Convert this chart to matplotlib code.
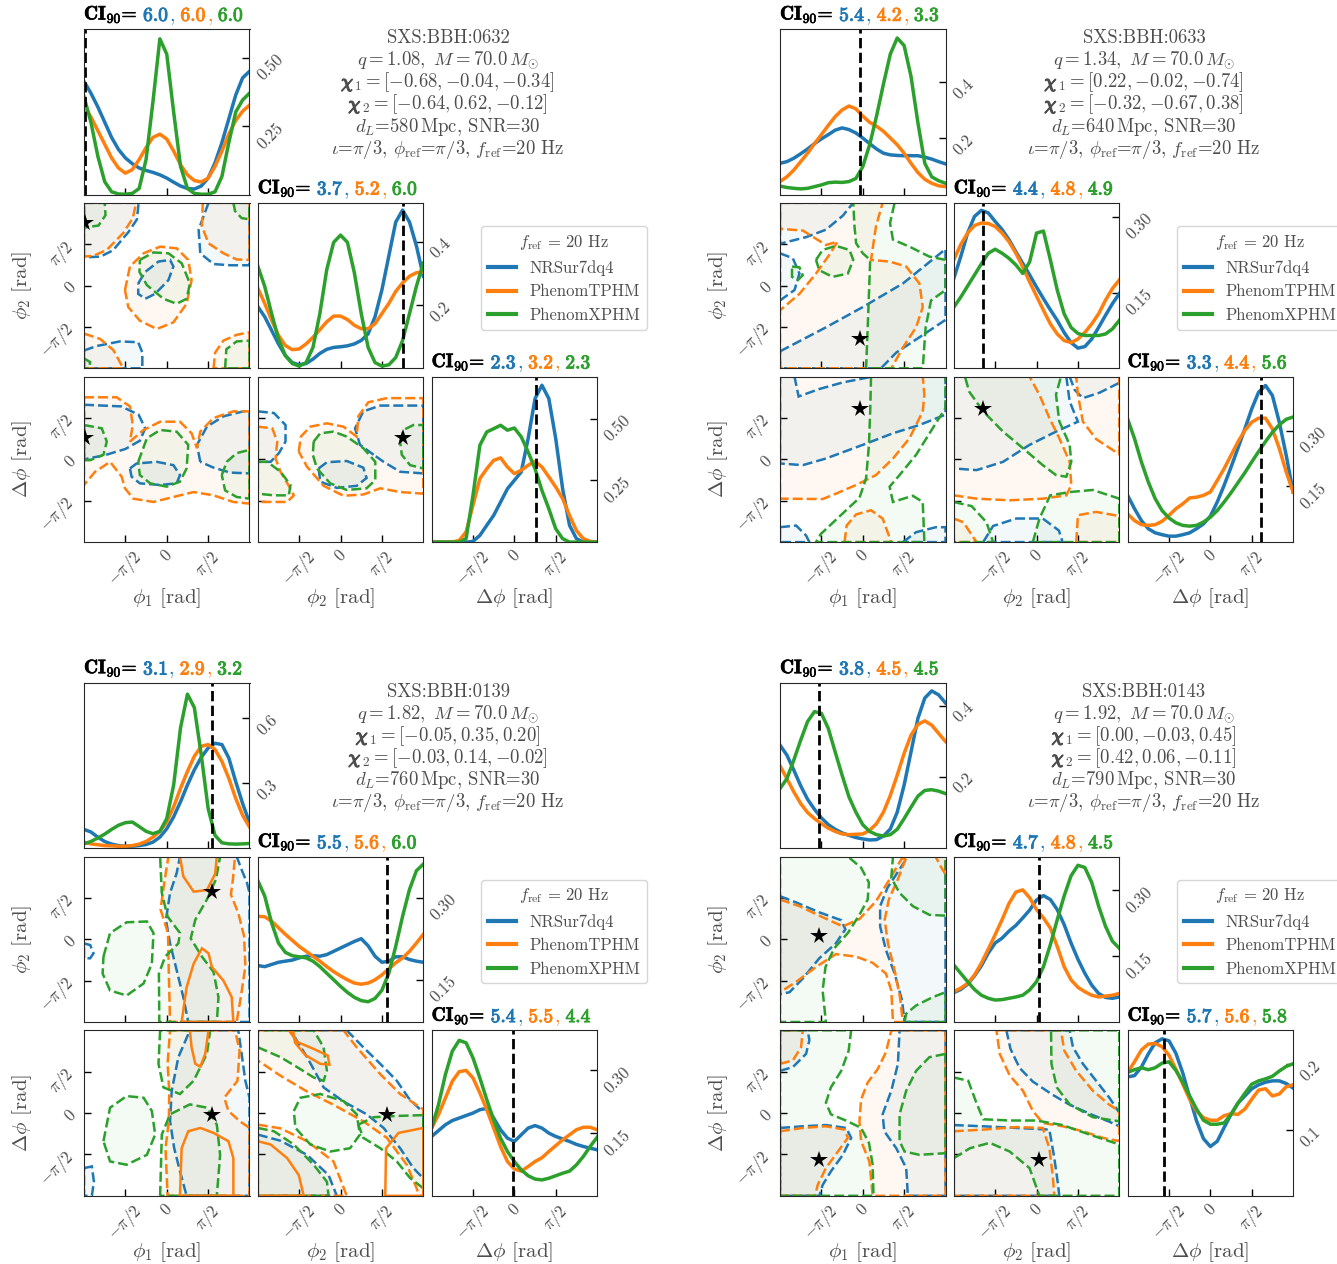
import numpy as np
import matplotlib
matplotlib.use("Agg")
import matplotlib.pyplot as plt
import matplotlib.patheffects as pe
from matplotlib.patches import Polygon
from matplotlib.lines import Line2D

plt.rcParams["font.family"] = "cmr10"
plt.rcParams["mathtext.fontset"] = "cm"
plt.rcParams["axes.formatter.use_mathtext"] = True
plt.rcParams["axes.unicode_minus"] = False

models = ["NRSur7dq4", "PhenomTPHM", "PhenomXPHM"]
colors = ["#1f77b4", "#ff7f0e", "#2ca02c"]
grey = "0.3"

phase_grid = np.linspace(-np.pi, np.pi, 25)
HALF_PI = np.pi / 2   # contour vertices below are in units of pi/2
tick_pos = [-np.pi / 2, 0, np.pi / 2]
tick_txt = [r"$-\pi/2$", r"$0$", r"$\pi/2$"]

# ---------------- SXS:BBH:0632 ----------------
kde_0632_phi1_nrsur = [0.414, 0.371, 0.321, 0.265, 0.209, 0.165, 0.134, 0.113, 0.097, 0.088, 0.081, 0.072, 0.060, 0.045, 0.031, 0.022, 0.020, 0.031, 0.060, 0.116, 0.190, 0.277, 0.364, 0.427, 0.451]
kde_0632_phi1_tphm = [0.327, 0.284, 0.234, 0.184, 0.134, 0.097, 0.078, 0.091, 0.128, 0.172, 0.209, 0.221, 0.203, 0.159, 0.109, 0.072, 0.051, 0.046, 0.060, 0.103, 0.159, 0.221, 0.271, 0.305, 0.327]
kde_0632_phi1_xphm = [0.358, 0.265, 0.141, 0.047, 0.010, 0.002, 0.001, 0.004, 0.022, 0.128, 0.340, 0.570, 0.514, 0.302, 0.103, 0.022, 0.004, 0.001, 0.001, 0.010, 0.066, 0.190, 0.302, 0.346, 0.371]
kde_0632_phi2_nrsur = [0.195, 0.163, 0.120, 0.077, 0.040, 0.018, 0.011, 0.015, 0.029, 0.047, 0.060, 0.066, 0.068, 0.071, 0.077, 0.088, 0.109, 0.163, 0.248, 0.355, 0.462, 0.500, 0.462, 0.387, 0.291]
kde_0632_phi2_tphm = [0.253, 0.205, 0.152, 0.104, 0.072, 0.059, 0.061, 0.077, 0.098, 0.122, 0.147, 0.165, 0.165, 0.154, 0.136, 0.125, 0.125, 0.141, 0.173, 0.205, 0.243, 0.270, 0.291, 0.302, 0.304]
kde_0632_phi2_xphm = [0.323, 0.259, 0.173, 0.093, 0.040, 0.015, 0.007, 0.018, 0.066, 0.173, 0.312, 0.398, 0.421, 0.398, 0.302, 0.173, 0.066, 0.018, 0.007, 0.011, 0.034, 0.088, 0.173, 0.259, 0.332]
kde_0632_dphi_nrsur = [0, 0, 0, 0, 0, 0, 0.003, 0.027, 0.068, 0.108, 0.162, 0.216, 0.250, 0.284, 0.419, 0.581, 0.635, 0.581, 0.419, 0.216, 0.068, 0.014, 0, 0, 0]
kde_0632_dphi_tphm = [0, 0, 0, 0, 0.007, 0.041, 0.149, 0.257, 0.297, 0.331, 0.341, 0.304, 0.277, 0.291, 0.311, 0.327, 0.304, 0.264, 0.223, 0.176, 0.108, 0.047, 0.014, 0.003, 0]
kde_0632_dphi_xphm = [0, 0, 0, 0, 0, 0.014, 0.189, 0.392, 0.446, 0.459, 0.473, 0.453, 0.462, 0.426, 0.365, 0.297, 0.209, 0.135, 0.054, 0.014, 0, 0, 0, 0, 0]

cl_0632_p1p2_nrsur = [
    [(-0.69, 0.05), (-0.52, 0.33), (-0.20, 0.58), (0.08, 0.62), (0.16, 0.46), (0.04, 0.13), (-0.28, -0.20), (-0.52, -0.32), (-0.69, -0.20)],
    [(-2, 2), (-0.68, 2), (-0.72, 1.6), (-0.92, 1.3), (-1.3, 0.85), (-1.6, 0.7), (-2, 0.68)],
    [(1.01, 2), (0.77, 1.35), (0.81, 0.78), (1.13, 0.52), (1.53, 0.49), (2, 0.49), (2, 2)],
    [(-2, -1.57), (-1.69, -1.46), (-1.13, -1.35), (-0.69, -1.37), (-0.59, -1.62), (-0.59, -2), (-2, -2)]]
cl_0632_p1p2_tphm = [
    [(-1.01, -0.11), (-0.89, 0.46), (-0.56, 0.78), (-0.16, 0.94), (0.24, 0.90), (0.52, 0.62), (0.60, 0.13), (0.48, -0.44), (0.16, -0.89), (-0.24, -1.05), (-0.65, -0.85), (-0.93, -0.52)],
    [(-2, 2), (-0.74, 2), (-0.82, 1.63), (-1.05, 1.27), (-1.45, 0.86), (-1.77, 0.72), (-2, 0.70)],
    [(0.87, 2), (0.85, 1.43), (1.01, 1.02), (1.37, 0.78), (1.69, 0.63), (2, 0.62), (2, 2)],
    [(-2, -1.16), (-1.61, -1.29), (-1.29, -1.56), (-1.05, -2), (-2, -2)],
    [(1.13, -2), (1.17, -1.62), (1.37, -1.33), (1.69, -1.19), (2, -1.13), (2, -2)]]
cl_0632_p1p2_xphm = [
    [(-0.65, 0.62), (-0.32, 0.80), (0.04, 0.78), (0.36, 0.54), (0.56, 0.05), (0.48, -0.32), (0.24, -0.44), (-0.08, -0.32), (-0.48, 0.01), (-0.66, 0.33)],
    [(-2, 2), (-1.5, 2), (-1.48, 1.7), (-1.65, 1.45), (-2, 1.4)],
    [(1.61, 2), (1.65, 1.80), (1.81, 1.63), (2, 1.6), (2, 2)],
    [(-2, -1.76), (-1.85, -1.85), (-1.88, -2), (-2, -2)],
    [(1.41, -2), (1.44, -1.54), (1.69, -1.35), (2, -1.33), (2, -2)]]
cl_0632_p1dp_nrsur = [
    [(-2, 1.32), (-1.1, 1.28), (-0.68, 1.08), (-0.52, 0.75), (-0.65, 0.45), (-1.0, 0.25), (-1.5, 0.1), (-2, 0.0)],
    [(-0.89, -0.22), (-0.73, -0.10), (-0.24, -0.06), (0.16, -0.14), (0.32, -0.38), (0.24, -0.58), (-0.16, -0.62), (-0.65, -0.58), (-0.85, -0.42)],
    [(0.81, -0.06), (0.73, 0.35), (0.97, 0.79), (1.37, 1.04), (1.85, 1.16), (2, 1.16), (2, -0.34), (1.53, -0.32), (1.13, -0.20)]]
cl_0632_p1dp_tphm = [
    [(-2, 1.50), (-1.21, 1.50), (-0.89, 1.28), (-0.82, 0.83), (-0.89, 0.43), (-0.56, 0.71), (-0.16, 0.91), (0.32, 0.91), (0.60, 0.63), (0.73, 0.27), (0.81, 0.67), (1.13, 1.00), (1.61, 1.16), (2, 1.16), (2, -1.07), (1.61, -1.03), (1.13, -0.87), (0.65, -0.79), (0.16, -0.91), (-0.32, -1.03), (-0.81, -0.95), (-1.01, -0.70), (-1.09, -0.42), (-1.37, -0.06), (-1.73, -0.30), (-2, -0.62)]]
cl_0632_p1dp_xphm = [
    [(-2, 0.83), (-1.57, 0.75), (-1.45, 0.43), (-1.53, 0.11), (-1.85, -0.02), (-2, -0.02)],
    [(-0.69, -0.06), (-0.48, 0.51), (-0.16, 0.71), (0.24, 0.67), (0.52, 0.35), (0.48, -0.22), (0.32, -0.54), (0, -0.66), (-0.40, -0.58), (-0.65, -0.38)],
    [(1.33, -0.38), (1.45, -0.06), (1.69, 0.15), (2, 0.23), (2, -0.95), (1.69, -0.91), (1.41, -0.75)]]
cl_0632_p2dp_nrsur = [
    [(-2, 1.16), (-1.61, 1.12), (-1.33, 0.83), (-1.33, 0.43), (-1.49, 0.15), (-1.69, -0.06), (-2, -0.06)],
    [(0.80, 0.11), (0.47, 0.35), (0.35, 0.75), (0.55, 1.16), (0.96, 1.30), (2, 1.30), (2, -0.34), (1.44, -0.30), (1.04, -0.06)],
    [(-0.53, -0.22), (-0.33, -0.07), (0.15, -0.04), (0.55, -0.20), (0.63, -0.45), (0.39, -0.64), (-0.09, -0.69), (-0.49, -0.54)]]
cl_0632_p2dp_tphm = [
    [(-2, 0.79), (-1.65, 0.75), (-1.53, 0.43), (-1.57, 0.02), (-1.45, -0.30), (-1.21, -0.71), (-1.13, -0.87), (-1.29, -1.03), (-1.77, -1.03), (-2, -1.03)],
    [(-1.01, 0.19), (-0.96, 0.55), (-0.73, 0.79), (-0.33, 0.87), (0.07, 0.79), (0.39, 0.55), (0.43, 1.04), (0.67, 1.38), (1.12, 1.48), (2, 1.48), (2, -0.83), (1.44, -0.79), (0.96, -0.70), (0.55, -0.85), (0.07, -0.88), (-0.41, -0.64), (-0.81, -0.18)]]
cl_0632_p2dp_xphm = [
    [(-2, -0.06), (-1.77, -0.06), (-1.45, -0.30), (-1.21, -0.62), (-1.25, -0.87), (-1.61, -0.87), (-2, -0.83)],
    [(-0.65, 0.43), (-0.49, 0.63), (-0.17, 0.67), (0.15, 0.55), (0.55, 0.27), (0.84, -0.06), (0.84, -0.50), (0.63, -0.70), (0.15, -0.74), (-0.25, -0.58), (-0.57, -0.22), (-0.67, 0.11)],
    [(1.44, 0.43), (1.52, 0.71), (1.76, 0.83), (2, 0.83), (2, -0.22), (1.68, -0.14), (1.48, 0.11)]]

truth_0632 = [-3.11, 2.36, 0.82]
ci_0632 = [[6.0, 6.0, 6.0], [3.7, 5.2, 6.0], [2.3, 3.2, 2.3]]
ylim_0632 = [(0, 0.606), (0, 0.523), (0, 0.67)]
ytick_0632 = [[0.25, 0.50], [0.2, 0.4], [0.25, 0.50]]
ytxt_0632 = [["0.25", "0.50"], ["0.2", "0.4"], ["0.25", "0.50"]]
info_0632 = ["0632", "1.08", "[-0.68, -0.04, -0.34]", "[-0.64, 0.62, -0.12]", "580"]

# ---------------- SXS:BBH:0633 ----------------
kde_0633_phi1_nrsur = [0.111, 0.117, 0.129, 0.145, 0.162, 0.181, 0.198, 0.213, 0.229, 0.237, 0.231, 0.219, 0.201, 0.181, 0.162, 0.147, 0.141, 0.139, 0.138, 0.138, 0.138, 0.133, 0.126, 0.117, 0.109]
kde_0633_phi1_tphm = [0.046, 0.063, 0.087, 0.117, 0.147, 0.181, 0.213, 0.246, 0.277, 0.301, 0.315, 0.305, 0.279, 0.257, 0.243, 0.225, 0.201, 0.177, 0.147, 0.111, 0.078, 0.054, 0.040, 0.031, 0.028]
kde_0633_phi1_xphm = [0.030, 0.025, 0.022, 0.020, 0.022, 0.028, 0.034, 0.042, 0.044, 0.043, 0.046, 0.057, 0.099, 0.177, 0.279, 0.393, 0.500, 0.557, 0.530, 0.420, 0.255, 0.111, 0.063, 0.049, 0.040]
kde_0633_phi2_nrsur = [0.178, 0.221, 0.268, 0.301, 0.313, 0.308, 0.291, 0.275, 0.255, 0.231, 0.208, 0.185, 0.161, 0.138, 0.116, 0.095, 0.071, 0.051, 0.040, 0.043, 0.058, 0.081, 0.105, 0.128, 0.148]
kde_0633_phi2_tphm = [0.215, 0.245, 0.268, 0.283, 0.288, 0.287, 0.281, 0.268, 0.251, 0.228, 0.201, 0.171, 0.143, 0.115, 0.088, 0.068, 0.055, 0.051, 0.058, 0.071, 0.088, 0.108, 0.135, 0.158, 0.175]
kde_0633_phi2_xphm = [0.121, 0.141, 0.163, 0.185, 0.207, 0.228, 0.236, 0.228, 0.218, 0.205, 0.188, 0.211, 0.268, 0.272, 0.215, 0.155, 0.108, 0.081, 0.069, 0.065, 0.065, 0.065, 0.068, 0.078, 0.095]
kde_0633_dphi_nrsur = [0.126, 0.090, 0.058, 0.036, 0.025, 0.020, 0.016, 0.016, 0.020, 0.025, 0.036, 0.049, 0.070, 0.108, 0.153, 0.202, 0.253, 0.305, 0.359, 0.404, 0.422, 0.395, 0.323, 0.234, 0.135]
kde_0633_dphi_tphm = [0.076, 0.058, 0.047, 0.045, 0.047, 0.056, 0.072, 0.090, 0.103, 0.119, 0.121, 0.126, 0.135, 0.166, 0.198, 0.234, 0.270, 0.301, 0.323, 0.334, 0.334, 0.305, 0.252, 0.189, 0.135]
kde_0633_dphi_xphm = [0.332, 0.279, 0.216, 0.162, 0.117, 0.085, 0.065, 0.052, 0.045, 0.043, 0.045, 0.054, 0.067, 0.085, 0.108, 0.133, 0.160, 0.187, 0.216, 0.244, 0.271, 0.296, 0.316, 0.331, 0.337]

cl_0633_p1p2_nrsur = [
    [(-2, -1.59), (-0.89, -1.01), (0, -0.52), (0.97, 0.05), (2, 0.88), (2, -0.83), (1.37, -1.25), (0.81, -1.62), (0.44, -2), (-2, -2)],
    [(-2, 2), (-0.23, 2), (-0.48, 1.69), (-0.89, 1.35), (-1.37, 1.17), (-2, 1.01)],
    [(-2, 0.78), (-1.69, 0.66), (-1.53, 0.29), (-1.65, -0.11), (-2, -0.36)]]
cl_0633_p1p2_tphm = [
    [(-2, 2), (0.48, 2), (0.32, 1.43), (0.20, 0.62), (0.65, 0.58), (1.05, 0.46), (1.37, 0.05), (1.45, -0.52), (1.29, -1.01), (0.97, -1.50), (0.69, -2), (-2, -2), (-2, -0.60), (-1.53, -0.20), (-1.13, 0.29), (-0.81, 0.74), (-0.61, 1.06), (-0.89, 0.98), (-1.45, 1.33), (-2, 1.37)]]
cl_0633_p1p2_xphm = [
    [(-0.23, 2), (0.77, 2), (0.66, 1.51), (0.73, 1.11), (1.13, 0.94), (1.61, 0.70), (2, 0.62), (2, -0.11), (1.65, -0.36), (1.52, -1.01), (1.45, -2), (0.08, -2), (0.12, -1.01), (0.18, 0.62), (0, 0.78), (-0.16, 1.02), (-0.20, 1.43)],
    [(-1.13, 0.62), (-0.97, 0.86), (-0.65, 0.96), (-0.32, 0.86), (-0.23, 0.62), (-0.36, 0.29), (-0.73, 0.21), (-1.05, 0.37)],
    [(-1.71, 0.46), (-1.53, 0.44), (-1.45, 0.25), (-1.57, 0.13), (-1.71, 0.21)]]
cl_0633_p1dp_nrsur = [
    [(-2, 2), (-1.65, 2), (-1.55, 1.52), (-1.05, 1.70), (-0.48, 1.86), (0.24, 2), (2, 2), (2, 1.08), (1.37, 0.83), (0.73, 0.63), (0, 0.35), (-0.89, 0.02), (-1.45, -0.14), (-2, -0.10)],
    [(-2, -1.64), (-1.61, -1.60), (-1.37, -1.84), (-1.29, -2), (-2, -2)],
    [(0.97, -2), (1.29, -1.76), (1.77, -1.64), (2, -1.64), (2, -2)]]
cl_0633_p1dp_tphm = [
    [(-2, 2), (1.45, 2), (1.49, 1.56), (1.45, 1.16), (1.13, 0.51), (0.73, 0.02), (0.32, -0.38), (-0.16, -0.62), (-0.65, -0.83), (-0.97, -0.96), (-2, -0.95)],
    [(-0.44, -2), (-0.39, -1.60), (-0.16, -1.33), (0.20, -1.23), (0.48, -1.43), (0.69, -2)]]
cl_0633_p1dp_xphm = [
    [(0.20, 2), (2, 2), (2, 1.24), (1.69, 0.75), (1.29, 0.11), (0.89, -0.38), (0.65, -0.66), (0.73, -1.03), (1.21, -0.88), (1.45, -1.03), (1.49, -2), (-1.13, -2), (-1.01, -1.80), (-0.69, -1.50), (-0.36, -1.19), (-0.08, -0.93), (0.08, -0.46), (0.15, 0.35), (0.18, 1.16)]]
cl_0633_p2dp_nrsur = [
    [(-2, 2), (0.72, 2), (0.80, 1.40), (1.00, 0.91), (0.47, 0.67), (-0.17, 0.35), (-0.81, -0.06), (-1.45, -0.26), (-2, -0.22)],
    [(0.80, 2), (2, 2), (2, 1.85), (1.52, 1.61), (1.12, 1.48), (0.92, 1.68)],
    [(-1.29, -2), (-1.05, -1.61), (-0.49, -1.43), (0.15, -1.43), (0.54, -1.72), (0.63, -2)]]
cl_0633_p2dp_tphm = [
    [(-2, 2), (-0.17, 2), (0.07, 1.56), (0.31, 1.00), (0.55, 0.51), (0.80, -0.06), (0.84, -0.62), (0.72, -0.87), (0.15, -0.95), (-0.65, -0.99), (-1.45, -0.95), (-2, -0.87)],
    [(0.96, 2), (2, 2), (2, 0.12), (1.44, 0.49), (1.12, 0.91), (1.00, 1.56)],
    [(0.96, -2), (1.00, -1.35), (1.44, -1.27), (2, -1.37), (2, -2)],
    [(-2, -1.43), (-1.77, -1.52), (-1.45, -2), (-2, -2)]]
cl_0633_p2dp_xphm = [
    [(-1.73, 2), (0.59, 2), (0.47, 1.56), (0.55, 0.92), (0.80, 0.35), (0.84, -0.06), (0.72, -0.42), (0.47, -0.38), (0.15, -0.14), (-0.33, 0.27), (-0.81, 0.67), (-1.29, 1.16), (-1.63, 1.64)],
    [(-2, -1.03), (-1.57, -1.13), (-1.21, -1.52), (-1.05, -2), (-2, -2)],
    [(-0.09, -2), (0.07, -1.43), (0.33, -0.87), (0.80, -0.79), (1.36, -0.74), (2, -0.95), (2, -2)]]

truth_0633 = [-0.09, -2.03, 1.92]
ci_0633 = [[5.4, 4.2, 3.3], [4.4, 4.8, 4.9], [3.3, 4.4, 5.6]]
ylim_0633 = [(0, 0.589), (0, 0.328), (0, 0.446)]
ytick_0633 = [[0.2, 0.4], [0.15, 0.30], [0.15, 0.30]]
ytxt_0633 = [["0.2", "0.4"], ["0.15", "0.30"], ["0.15", "0.30"]]
info_0633 = ["0633", "1.34", "[0.22, -0.02, -0.74]", "[-0.32, -0.67, 0.38]", "640"]

# ---------------- SXS:BBH:0139 ----------------
kde_0139_phi1_nrsur = [0.087, 0.075, 0.051, 0.031, 0.019, 0.012, 0.009, 0.009, 0.012, 0.017, 0.028, 0.051, 0.090, 0.145, 0.215, 0.292, 0.362, 0.420, 0.463, 0.485, 0.479, 0.417, 0.308, 0.207, 0.118]
kde_0139_phi1_tphm = [0.028, 0.020, 0.016, 0.012, 0.011, 0.009, 0.009, 0.012, 0.019, 0.031, 0.051, 0.078, 0.121, 0.191, 0.277, 0.355, 0.425, 0.471, 0.479, 0.456, 0.401, 0.323, 0.230, 0.152, 0.098]
kde_0139_phi1_xphm = [0.020, 0.031, 0.047, 0.065, 0.087, 0.106, 0.118, 0.121, 0.100, 0.078, 0.067, 0.078, 0.137, 0.292, 0.557, 0.712, 0.650, 0.432, 0.184, 0.059, 0.025, 0.020, 0.019, 0.020, 0.022]
kde_0139_phi2_nrsur = [0.176, 0.174, 0.178, 0.182, 0.184, 0.186, 0.190, 0.193, 0.194, 0.193, 0.196, 0.202, 0.208, 0.214, 0.220, 0.225, 0.212, 0.193, 0.182, 0.184, 0.192, 0.192, 0.187, 0.184, 0.182]
kde_0139_phi2_tphm = [0.266, 0.265, 0.257, 0.245, 0.233, 0.222, 0.211, 0.202, 0.193, 0.184, 0.174, 0.165, 0.157, 0.150, 0.144, 0.142, 0.144, 0.150, 0.159, 0.170, 0.181, 0.190, 0.202, 0.217, 0.233]
kde_0139_phi2_xphm = [0.331, 0.303, 0.254, 0.217, 0.200, 0.194, 0.192, 0.190, 0.184, 0.174, 0.162, 0.150, 0.138, 0.127, 0.118, 0.112, 0.110, 0.116, 0.131, 0.162, 0.211, 0.266, 0.315, 0.349, 0.361]
kde_0139_dphi_nrsur = [0.142, 0.156, 0.170, 0.180, 0.186, 0.192, 0.198, 0.206, 0.209, 0.186, 0.158, 0.138, 0.130, 0.146, 0.162, 0.168, 0.162, 0.150, 0.142, 0.136, 0.130, 0.123, 0.118, 0.114, 0.110]
kde_0139_dphi_tphm = [0.162, 0.194, 0.234, 0.274, 0.297, 0.300, 0.282, 0.246, 0.206, 0.162, 0.118, 0.082, 0.064, 0.059, 0.070, 0.082, 0.091, 0.106, 0.120, 0.134, 0.146, 0.158, 0.164, 0.164, 0.158]
kde_0139_dphi_xphm = [0.162, 0.218, 0.290, 0.346, 0.372, 0.366, 0.330, 0.282, 0.230, 0.182, 0.138, 0.106, 0.082, 0.062, 0.048, 0.040, 0.038, 0.042, 0.048, 0.054, 0.059, 0.074, 0.094, 0.118, 0.140]

cl_0139_p1p2_nrsur = [
    [(0.32, 2), (1.69, 2), (1.81, 1.68), (1.94, 1.36), (2, 1.12), (2, -2), (0.52, -2), (0.40, -1.40), (0.24, -0.75), (0.08, -0.10), (-0.02, 0.47), (0.08, 1.12), (0.24, 1.60)],
    [(-2, -0.10), (-1.85, -0.14), (-1.77, -0.34), (-1.85, -0.46), (-2, -0.46)]]
cl_0139_p1p2_tphm = [
    [(0.04, 2), (1.65, 2), (1.60, 1.45), (1.55, 1.08), (1.73, 0.63), (1.87, 0.07), (1.90, -0.66), (1.79, -1.40), (1.69, -2), (0.08, -2), (0.05, -0.83), (0.03, 0.15), (-0.15, 0.72), (-0.06, 1.37)]]
cl_0139_p1p2_xphm = [
    [(-1.53, -0.42), (-1.37, 0.15), (-0.97, 0.41), (-0.48, 0.43), (-0.32, 0.15), (-0.36, -0.59), (-0.56, -1.07), (-0.97, -1.36), (-1.37, -1.24), (-1.55, -0.83)],
    [(-0.16, 2), (1.29, 2), (1.19, 1.45), (0.97, 0.96), (0.69, 0.47), (0.58, 0.02), (0.85, -0.42), (1.13, -0.79), (1.25, -1.40), (1.21, -2), (-0.18, -2), (-0.19, -0.83), (-0.04, -0.42), (0.28, -0.10), (0.32, 0.15), (0.02, 0.55), (-0.12, 1.12)]]
cl_0139_p1p2_tphm_core = [
    [(0.32, 2), (0.40, 1.52), (0.65, 1.15), (0.97, 1.19), (1.17, 1.58), (1.21, 2)],
    [(0.36, -2), (0.48, -1.16), (0.65, -0.59), (0.85, -0.22), (1.01, -0.34), (1.09, -0.67), (1.37, -1.00), (1.57, -1.40), (1.61, -2)]]
cl_0139_p1dp_nrsur = [
    [(0.56, 2), (1.73, 2), (1.81, 1.43), (1.90, 0.78), (2, 0.37), (2, -2), (0.48, -2), (0.32, -1.41), (0.18, -0.85), (0.08, -0.20), (0.12, 0.54), (0.28, 1.35)],
    [(-2, -1.33), (-1.81, -1.29), (-1.76, -1.66), (-1.81, -2), (-2, -2)]]
cl_0139_p1dp_tphm = [
    [(0.08, 2), (1.65, 2), (1.76, 1.51), (1.71, 0.78), (1.39, 0.37), (1.49, 0.05), (1.77, -0.20), (2, -0.36), (2, -2), (0.02, -2), (-0.03, -0.85), (0.05, -0.20), (0.06, 0.54), (0.02, 1.19)]]
cl_0139_p1dp_xphm = [
    [(-1.53, -0.68), (-1.37, 0.13), (-0.97, 0.41), (-0.56, 0.37), (-0.36, 0.05), (-0.28, -0.52), (-0.48, -1.01), (-0.97, -1.25), (-1.37, -1.17)],
    [(-0.16, 2), (-0.20, 1.19), (-0.08, 0.62), (0.32, 0.46), (0.65, 0.78), (0.97, 1.43), (1.05, 2)],
    [(-0.16, -2), (-0.12, -0.52), (0.08, -0.03), (0.56, 0.21), (0.97, 0.13), (1.21, -0.28), (1.29, -1.01), (1.21, -2)]]
cl_0139_p1dp_tphm_core = [
    [(0.56, 2), (0.60, 1.59), (0.69, 1.19), (0.81, 1.12), (0.93, 1.43), (1.01, 2)],
    [(0.32, -2), (0.36, -0.85), (0.52, -0.44), (0.81, -0.36), (1.13, -0.48), (1.49, -0.68), (1.61, -1.09), (1.61, -2)]]
cl_0139_p2dp_nrsur = [
    [(-1.21, 2), (0.15, 2), (0.55, 1.59), (0.96, 1.19), (1.36, 0.78), (1.64, 0.37), (2, 0.01), (2, -1.58), (1.76, -1.33), (1.44, -0.85), (1.04, -0.36), (0.63, -0.03), (0.07, 0.28), (-0.41, 0.62), (-0.81, 1.35)],
    [(-2, -0.52), (-1.45, -0.67), (-0.81, -1.01), (-0.29, -1.50), (-0.09, -2), (-2, -2)]]
cl_0139_p2dp_tphm = [
    [(-2, 2), (0.07, 2), (0.39, 1.59), (0.96, 0.94), (1.44, 0.46), (2, 0.09), (2, -2), (1.9, -2), (1.84, -1.82), (1.60, -1.25), (1.12, -0.60), (0.55, -0.20), (-0.17, 0.20), (-0.81, 0.52), (-1.45, 0.90), (-2, 1.27)],
    [(-2, -0.28), (-1.45, -0.37), (-0.81, -0.68), (-0.17, -1.17), (0.15, -2), (-2, -2)]]
cl_0139_p2dp_xphm = [
    [(-2, 1.59), (-1.45, 1.35), (-1.05, 1.11), (-0.65, 0.86), (-0.41, 0.78), (-0.33, 1.02), (-0.41, 1.59), (-0.65, 2), (-2, 2)],
    [(-1.13, 0.05), (-0.97, 0.37), (-0.49, 0.46), (0.07, 0.29), (0.39, -0.03), (0.47, -0.52), (0.23, -0.85), (-0.25, -0.93), (-0.73, -0.76), (-1.09, -0.36)],
    [(0.43, -0.28), (0.80, -0.10), (1.36, -0.07), (2, -0.05), (2, -1.82), (1.68, -1.57), (1.36, -1.17), (0.96, -0.85), (0.55, -0.60)],
    [(-2, -0.36), (-1.61, -0.44), (-1.13, -0.76), (-0.65, -1.25), (-0.33, -1.66), (-0.29, -2), (-2, -2)]]
cl_0139_p2dp_tphm_core = [
    [(-1.25, 2), (-1.05, 1.72), (-0.65, 1.55), (-0.31, 1.39), (-0.27, 1.17), (-0.49, 1.19), (-0.85, 1.40), (-1.10, 1.70), (-1.15, 2)],
    [(1.08, -2), (1.10, -0.85), (1.40, -0.48), (2, -0.36), (2, -2)],
    [(-2, -0.68), (-1.69, -0.76), (-1.29, -1.09), (-1.01, -1.50), (-0.89, -2), (-2, -2)]]

truth_0139 = [1.71, 1.78, -0.07]
ci_0139 = [[3.1, 2.9, 3.2], [5.5, 5.6, 6.0], [5.4, 5.5, 4.4]]
ylim_0139 = [(0, 0.765), (0.073, 0.375), (0, 0.396)]
ytick_0139 = [[0.3, 0.6], [0.15, 0.30], [0.15, 0.30]]
ytxt_0139 = [["0.3", "0.6"], ["0.15", "0.30"], ["0.15", "0.30"]]
info_0139 = ["0139", "1.82", "[-0.05, 0.35, 0.20]", "[-0.03, 0.14, -0.02]", "760"]

# ---------------- SXS:BBH:0143 ----------------
kde_0143_phi1_nrsur = [0.289, 0.261, 0.219, 0.175, 0.137, 0.109, 0.085, 0.066, 0.053, 0.043, 0.036, 0.030, 0.026, 0.023, 0.024, 0.034, 0.054, 0.101, 0.177, 0.270, 0.364, 0.421, 0.441, 0.430, 0.407]
kde_0143_phi1_tphm = [0.231, 0.195, 0.158, 0.125, 0.100, 0.083, 0.069, 0.056, 0.047, 0.040, 0.038, 0.039, 0.040, 0.050, 0.069, 0.101, 0.148, 0.205, 0.266, 0.317, 0.347, 0.357, 0.345, 0.322, 0.299]
kde_0143_phi1_xphm = [0.167, 0.195, 0.247, 0.303, 0.355, 0.383, 0.378, 0.336, 0.270, 0.205, 0.144, 0.101, 0.066, 0.047, 0.038, 0.034, 0.038, 0.053, 0.083, 0.115, 0.146, 0.162, 0.164, 0.160, 0.153]
kde_0143_phi2_nrsur = [0.067, 0.074, 0.086, 0.105, 0.128, 0.157, 0.180, 0.191, 0.207, 0.220, 0.237, 0.255, 0.278, 0.288, 0.279, 0.256, 0.222, 0.180, 0.143, 0.111, 0.084, 0.065, 0.056, 0.054, 0.057]
kde_0143_phi2_tphm = [0.069, 0.077, 0.088, 0.107, 0.134, 0.166, 0.199, 0.233, 0.270, 0.296, 0.301, 0.283, 0.256, 0.237, 0.214, 0.172, 0.126, 0.096, 0.079, 0.069, 0.061, 0.057, 0.059, 0.061, 0.065]
kde_0143_phi2_xphm = [0.130, 0.111, 0.092, 0.074, 0.061, 0.054, 0.050, 0.051, 0.054, 0.057, 0.061, 0.073, 0.092, 0.126, 0.176, 0.233, 0.287, 0.333, 0.357, 0.352, 0.318, 0.264, 0.218, 0.184, 0.168]
kde_0143_dphi_nrsur = [0.181, 0.183, 0.196, 0.216, 0.233, 0.239, 0.236, 0.217, 0.187, 0.150, 0.114, 0.087, 0.075, 0.083, 0.104, 0.124, 0.141, 0.152, 0.163, 0.169, 0.173, 0.175, 0.175, 0.171, 0.164]
kde_0143_dphi_tphm = [0.188, 0.204, 0.222, 0.231, 0.232, 0.227, 0.214, 0.193, 0.170, 0.147, 0.129, 0.119, 0.115, 0.115, 0.122, 0.125, 0.124, 0.132, 0.147, 0.161, 0.163, 0.152, 0.155, 0.166, 0.169]
kde_0143_dphi_xphm = [0.188, 0.192, 0.195, 0.192, 0.195, 0.202, 0.204, 0.191, 0.173, 0.152, 0.132, 0.115, 0.109, 0.109, 0.111, 0.124, 0.141, 0.156, 0.170, 0.175, 0.178, 0.182, 0.190, 0.197, 0.201]

cl_0143_p1p2_nrsur = [
    [(-2, 1.04), (-1.61, 0.89), (-1.05, 0.65), (-0.52, 0.46), (-0.42, 0.24), (-0.65, -0.10), (-1.05, -0.46), (-1.45, -0.95), (-1.77, -1.28), (-2, -1.33)],
    [(1.09, 2), (2, 2), (2, -2), (1.01, -2), (0.95, -1.48), (0.77, -0.83), (0.56, -0.26), (0.42, 0.31), (0.42, 0.80), (0.60, 1.25), (0.89, 1.69)]]
cl_0143_p1p2_tphm = [
    [(-2, 0.96), (-1.53, 0.80), (-1.05, 0.57), (-0.48, 0.31), (-0.08, 0.49), (0.32, 0.92), (0.65, 1.45), (0.93, 1.93), (1.06, 2), (0.85, 1.45), (0.63, 0.96), (0.53, 0.47), (0.61, -0.10), (0.77, -0.75), (0.90, -1.40), (0.97, -2), (0.73, -2), (0.69, -1.24), (0.56, -0.83), (0.24, -0.57), (-0.16, -0.42), (-0.65, -0.36), (-1.13, -0.67), (-1.61, -1.03), (-2, -1.28)],
    [(1.76, 2), (2, 2), (2, 1.57), (1.90, 1.73)]]
cl_0143_p1p2_xphm = [
    [(-2, 2), (-0.36, 2), (-0.04, 1.73), (0.15, 1.37), (0.12, 0.96), (-0.08, 0.59), (-0.36, 0.15), (-0.69, -0.22), (-0.90, -0.67), (-0.97, -1.24), (-0.89, -2), (-2, -2)],
    [(0.73, 2), (2, 2), (2, 0.57), (1.61, 0.59), (1.21, 0.80), (0.89, 1.12), (0.69, 1.48)],
    [(1.01, -2), (1.05, -1.80), (1.29, -1.60), (1.69, -1.40), (2, -1.28), (2, -2)]]
cl_0143_p1dp_nrsur = [
    [(-2, 1.02), (-1.69, 1.11), (-1.37, 1.43), (-1.29, 1.76), (-1.33, 2), (-2, 2)],
    [(0.89, 2), (2, 2), (2, -2), (1.09, -2), (1.05, -1.33), (0.81, -0.85), (0.52, -0.44), (0.48, -0.03), (0.69, 0.54), (0.85, 1.19)],
    [(-2, -0.36), (-1.45, -0.32), (-0.89, -0.29), (-0.40, -0.36), (-0.28, -0.60), (-0.48, -1.01), (-0.77, -1.41), (-0.97, -1.74), (-1.05, -2), (-2, -2)]]
cl_0143_p1dp_tphm = [
    [(-2, 1.19), (-1.69, 1.27), (-1.49, 1.59), (-1.45, 2), (-2, 2)],
    [(0.69, 2), (2, 2), (2, -2), (0.24, -2), (0.16, -1.17), (-0.04, -0.68), (-0.08, -0.20), (-0.04, 0.33), (0.12, 0.74), (0.36, 1.06), (0.56, 1.47)],
    [(-2, -0.44), (-1.45, -0.36), (-0.89, -0.32), (-0.44, -0.40), (-0.36, -0.60), (-0.60, -0.93), (-0.89, -1.33), (-1.09, -1.74), (-1.15, -2), (-2, -2)]]
cl_0143_p1dp_xphm = [
    [(-2, 2), (-0.28, 2), (-0.34, 1.51), (-0.52, 1.02), (-0.77, 0.62), (-0.89, 0.25), (-0.77, -0.03), (-0.36, -0.20), (-0.04, -0.36), (0.15, -0.72), (0.24, -1.25), (0.26, -2), (-2, -2)],
    [(2, 1.43), (1.61, 1.35), (1.29, 1.02), (1.05, 0.54), (0.89, -0.03), (0.89, -0.68), (1.01, -0.93), (1.37, -1.01), (2, -0.97)]]
cl_0143_p2dp_nrsur = [
    [(-0.73, 2), (0.80, 2), (0.88, 1.59), (1.12, 1.19), (1.44, 0.78), (1.76, 0.37), (2, 0.01), (2, -0.32), (1.76, -0.21), (1.36, -0.05), (0.80, 0.20), (0.39, 0.44), (-0.09, 0.76), (-0.41, 1.09), (-0.63, 1.55)],
    [(-2, -0.29), (-1.29, -0.32), (-0.49, -0.36), (0.31, -0.40), (0.43, -1.09), (0.51, -1.66), (0.55, -2), (-2, -2)]]
cl_0143_p2dp_tphm = [
    [(-0.97, 2), (0.59, 2), (0.67, 1.51), (0.96, 1.02), (1.36, 0.54), (1.76, 0.20), (2, 0.05), (2, -0.68), (1.60, -0.60), (1.12, -0.44), (0.63, -0.32), (0.15, -0.24), (-0.09, 0.05), (-0.33, 0.54), (-0.65, 0.91), (-0.89, 1.43)],
    [(-2, -0.44), (-1.29, -0.40), (-0.49, -0.34), (0.15, -0.36), (0.31, -0.85), (0.39, -1.50), (0.43, -2), (-2, -2)]]
cl_0143_p2dp_xphm = [
    [(0.35, 2), (2, 2), (2, -0.20), (1.36, -0.10), (0.80, 0.21), (0.49, 0.62), (0.36, 1.19)],
    [(-2, 0.86), (-1.65, 0.78), (-1.47, 0.29), (-1.29, -0.15), (-0.65, -0.18), (-0.01, -0.18), (0.63, -0.29), (1.28, -0.52), (1.76, -0.68), (2, -0.76), (2, -2), (0.07, -2), (-0.17, -1.33), (-0.65, -0.93), (-1.13, -0.72), (-1.61, -0.85), (-2, -1.09)]]

truth_0143 = [-1.65, 0.11, -1.77]
ci_0143 = [[3.8, 4.5, 4.5], [4.7, 4.8, 4.5], [5.7, 5.6, 5.8]]
ylim_0143 = [(0, 0.464), (0, 0.377), (0, 0.252)]
ytick_0143 = [[0.2, 0.4], [0.15, 0.30], [0.1, 0.2]]
ytxt_0143 = [["0.2", "0.4"], ["0.15", "0.30"], ["0.1", "0.2"]]
info_0143 = ["0143", "1.92", "[0.00, -0.03, 0.45]", "[0.42, 0.06, -0.11]", "790"]

# ---------------- layout (pixels) ----------------
W, H = 1337, 1264
P, G = 165.5, 8.3
fig = plt.figure(figsize=(W / 100, H / 100), dpi=100)
chi_lines = []


def px_axes(x, y, w, h):
    return fig.add_axes([x / W, 1 - (y + h) / H, w / W, h / H])


def heavy(c, lw=0.7):
    return [pe.withStroke(linewidth=lw, foreground=c)]


def ci_title(ax, vals):
    t = ax.annotate(r"$\mathbf{CI}_{\mathbf{90}}$=", xy=(0, 1), xycoords="axes fraction",
                    xytext=(0, 3), textcoords="offset points", fontsize=14, va="bottom",
                    color="k", path_effects=heavy("k", 0.5))
    for k, (v, c) in enumerate(zip(vals, colors)):
        t = ax.annotate(r"$\mathbf{%.1f}$" % v, xy=(1, 0), xycoords=t, xytext=(4, 0),
                        textcoords="offset points", fontsize=14, va="bottom", color=c,
                        path_effects=heavy(c, 0.7))
        if k < 2:
            t = ax.annotate(",", xy=(1, 0), xycoords=t, xytext=(0.3, 0),
                            textcoords="offset points", fontsize=14, va="bottom", color=c)


def draw_corner(L, T, kdes, contours, cores, truth, ci, ylims, yticks, ytxt, info):
    for r in range(3):
        for c in range(r + 1):
            ax = px_axes(L + c * (P + G), T + r * (P + G), P, P)
            ax.set_xlim(-np.pi, np.pi)
            ax.set_xticks(tick_pos)
            if r == 2:
                ax.set_xticklabels(tick_txt, rotation=45)
            else:
                ax.set_xticklabels([])
            if r == c:
                for vals, col in zip(kdes[r], colors):
                    ax.plot(phase_grid, vals, color=col, lw=2.5)
                ax.axvline(truth[r], color="k", ls="--", lw=2)
                ax.set_ylim(*ylims[r])
                ax.yaxis.tick_right()
                ax.set_yticks(yticks[r])
                ax.set_yticklabels(ytxt[r], rotation=45)
                ci_title(ax, ci[r])
            else:
                ax.set_ylim(-np.pi, np.pi)
                ax.set_yticks(tick_pos)
                if c == 0:
                    ax.set_yticklabels(tick_txt, rotation=45)
                else:
                    ax.set_yticklabels([])
                for polys, col in zip(contours[(r, c)], colors):
                    for poly in polys:
                        xy = np.array(poly) * HALF_PI
                        ax.add_patch(Polygon(xy, closed=True, facecolor=col, edgecolor="none",
                                             alpha=0.05, zorder=1))
                        ax.add_patch(Polygon(xy, closed=True, fill=False, edgecolor=col, lw=1.8,
                                             ls=(0, (4, 1.6)), zorder=2))
                for poly in cores.get((r, c), []):
                    ax.add_patch(Polygon(np.array(poly) * HALF_PI, closed=True, fill=False,
                                         edgecolor=colors[1], lw=1.8, zorder=2))
                ax.plot(truth[c], truth[r], marker="*", color="k", ms=13, mew=0, zorder=5)
            ax.tick_params(axis="both", which="both", direction="in", length=5, width=1,
                           labelsize=12, labelcolor=grey)
            for sp in ax.spines.values():
                sp.set_color("0.15")

    # axis labels
    names = [r"$\phi_1$ [rad]", r"$\phi_2$ [rad]", r"$\Delta\phi$ [rad]"]
    for c in range(3):
        fig.text((L + c * (P + G) + P / 2) / W, 1 - (T + 3 * P + 2 * G + 56) / H, names[c],
                 ha="center", va="center", fontsize=15, color=grey)
    for r in (1, 2):
        fig.text((L - 62) / W, 1 - (T + r * (P + G) + P / 2) / H, names[r],
                 ha="center", va="center", rotation=90, fontsize=15, color=grey)

    # description block
    sxs, q, chi1, chi2, dl = info
    lines = ["SXS:BBH:" + sxs,
             r"$q = %s,\ M = 70.0\,M_{\odot}$" % q,
             None,
             None,
             r"$d_L$=" + dl + r"$\,$Mpc, SNR=30",
             r"$\iota$=$\pi/3$, $\phi_{\rm ref}$=$\pi/3$, $f_{\rm ref}$=20 Hz"]
    vecs = {2: ("1", chi1), 3: ("2", chi2)}
    for k, s in enumerate(lines):
        ypos = 1 - (T + 14.3 + k * 22.1) / H
        if s is None:
            sub, vec = vecs[k]
            # bold chi drawn on its own, the rest of the line next to it
            a = fig.text(0, ypos, r"$\chi$", ha="left", va="baseline", fontsize=13.5,
                         color=grey, path_effects=heavy(grey, 1.0))
            b = fig.text(0, ypos, r"$_%s = %s$" % (sub, vec.replace("-", "{-}")),
                         ha="left", va="baseline", fontsize=13.5, color=grey)
            chi_lines.append((L + 364, a, b, r"$\chi_%s = %s$" % (sub, vec.replace("-", "{-}"))))
        else:
            fig.text((L + 364) / W, ypos, s, ha="center", va="baseline",
                     fontsize=13.5, color=grey)

    handles = [Line2D([], [], color=col, lw=3) for col in colors]
    leg = fig.legend(handles, models, loc="upper left",
                     bbox_to_anchor=((L + 397) / W, 1 - (T + 197) / H), borderaxespad=0,
                     title=r"$f_{\rm ref}$ = 20 Hz", fontsize=12, title_fontsize=12,
                     frameon=True, fancybox=True, edgecolor="0.8", labelcolor=grey,
                     handlelength=1.7)
    leg.get_title().set_color(grey)


draw_corner(84, 29,
            [[kde_0632_phi1_nrsur, kde_0632_phi1_tphm, kde_0632_phi1_xphm],
             [kde_0632_phi2_nrsur, kde_0632_phi2_tphm, kde_0632_phi2_xphm],
             [kde_0632_dphi_nrsur, kde_0632_dphi_tphm, kde_0632_dphi_xphm]],
            {(1, 0): [cl_0632_p1p2_nrsur, cl_0632_p1p2_tphm, cl_0632_p1p2_xphm],
             (2, 0): [cl_0632_p1dp_nrsur, cl_0632_p1dp_tphm, cl_0632_p1dp_xphm],
             (2, 1): [cl_0632_p2dp_nrsur, cl_0632_p2dp_tphm, cl_0632_p2dp_xphm]},
            {}, truth_0632, ci_0632, ylim_0632, ytick_0632, ytxt_0632, info_0632)

draw_corner(780, 29,
            [[kde_0633_phi1_nrsur, kde_0633_phi1_tphm, kde_0633_phi1_xphm],
             [kde_0633_phi2_nrsur, kde_0633_phi2_tphm, kde_0633_phi2_xphm],
             [kde_0633_dphi_nrsur, kde_0633_dphi_tphm, kde_0633_dphi_xphm]],
            {(1, 0): [cl_0633_p1p2_nrsur, cl_0633_p1p2_tphm, cl_0633_p1p2_xphm],
             (2, 0): [cl_0633_p1dp_nrsur, cl_0633_p1dp_tphm, cl_0633_p1dp_xphm],
             (2, 1): [cl_0633_p2dp_nrsur, cl_0633_p2dp_tphm, cl_0633_p2dp_xphm]},
            {}, truth_0633, ci_0633, ylim_0633, ytick_0633, ytxt_0633, info_0633)

draw_corner(84, 682.7,
            [[kde_0139_phi1_nrsur, kde_0139_phi1_tphm, kde_0139_phi1_xphm],
             [kde_0139_phi2_nrsur, kde_0139_phi2_tphm, kde_0139_phi2_xphm],
             [kde_0139_dphi_nrsur, kde_0139_dphi_tphm, kde_0139_dphi_xphm]],
            {(1, 0): [cl_0139_p1p2_nrsur, cl_0139_p1p2_tphm, cl_0139_p1p2_xphm],
             (2, 0): [cl_0139_p1dp_nrsur, cl_0139_p1dp_tphm, cl_0139_p1dp_xphm],
             (2, 1): [cl_0139_p2dp_nrsur, cl_0139_p2dp_tphm, cl_0139_p2dp_xphm]},
            {(1, 0): cl_0139_p1p2_tphm_core, (2, 0): cl_0139_p1dp_tphm_core,
             (2, 1): cl_0139_p2dp_tphm_core},
            truth_0139, ci_0139, ylim_0139, ytick_0139, ytxt_0139, info_0139)

draw_corner(780, 682.7,
            [[kde_0143_phi1_nrsur, kde_0143_phi1_tphm, kde_0143_phi1_xphm],
             [kde_0143_phi2_nrsur, kde_0143_phi2_tphm, kde_0143_phi2_xphm],
             [kde_0143_dphi_nrsur, kde_0143_dphi_tphm, kde_0143_dphi_xphm]],
            {(1, 0): [cl_0143_p1p2_nrsur, cl_0143_p1p2_tphm, cl_0143_p1p2_xphm],
             (2, 0): [cl_0143_p1dp_nrsur, cl_0143_p1dp_tphm, cl_0143_p1dp_xphm],
             (2, 1): [cl_0143_p2dp_nrsur, cl_0143_p2dp_tphm, cl_0143_p2dp_xphm]},
            {}, truth_0143, ci_0143, ylim_0143, ytick_0143, ytxt_0143, info_0143)

# centre each "chi_i = [...]" line from the measured widths of its two pieces
renderer = fig.canvas.get_renderer()
for xc, a, b, full in chi_lines:
    wa = a.get_window_extent(renderer).width
    try:
        wb = b.get_window_extent(renderer).width
    except Exception:
        a.remove()
        b.set_text(full)
        b.set_ha("center")
        b.set_x(xc / W)
        continue
    x0 = xc - (wa + wb) / 2
    a.set_x(x0 / W)
    b.set_x((x0 + wa) / W)

fig.savefig("out.png", dpi=100)
